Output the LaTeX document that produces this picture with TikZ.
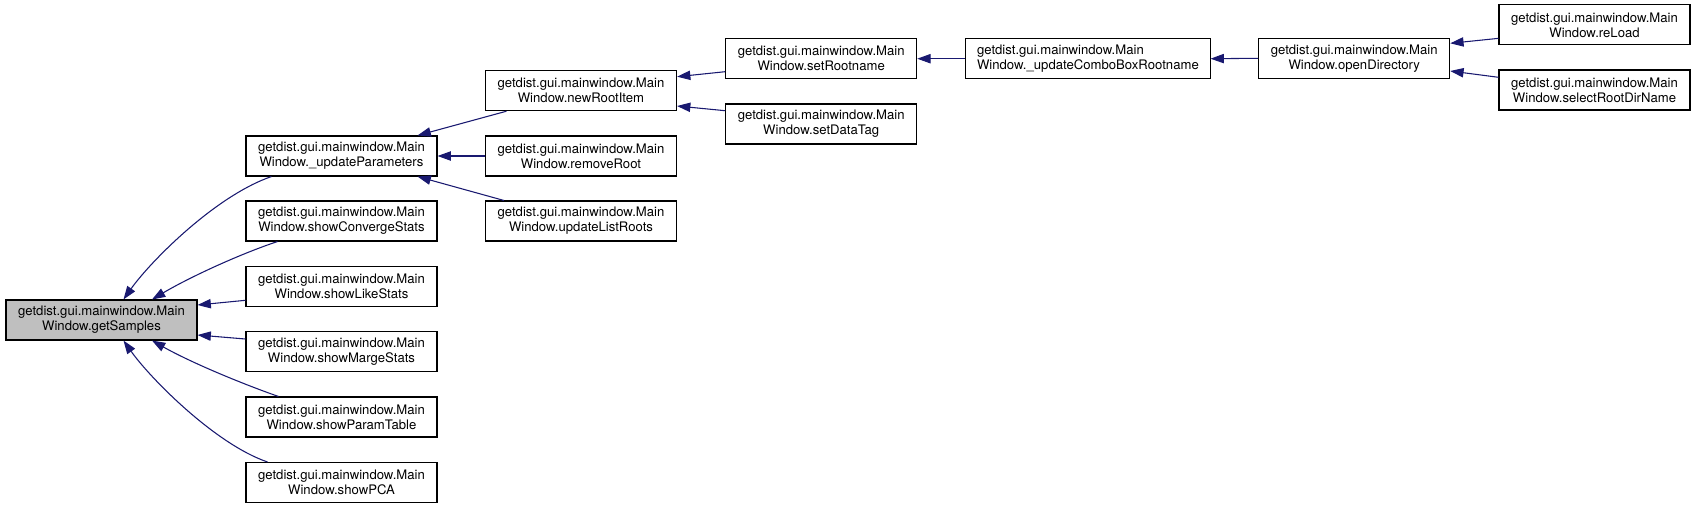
\documentclass[tikz,border=0pt]{standalone}
\usepackage{fontspec}
\setmainfont{TeX Gyre Heros}
\usetikzlibrary{arrows.meta,calc}
\definecolor{edgeblue}{HTML}{191970}
\definecolor{selgray}{HTML}{BFBFBF}
\tikzset{
  fn/.style={draw=black, line width=0.8pt, fill=white, inner sep=0pt,
    minimum width=143.25pt, minimum height=30pt, align=center,
    font=\fontsize{9.85pt}{11.25pt}\selectfont},
  fnwide/.style={fn, minimum width=183.2pt, align=left},
  cur/.style={fn, fill=selgray},
  edge/.style={draw=edgeblue, line width=0.8pt, {Triangle[length=10pt,width=7pt]}-}
}
\begin{document}
\begin{tikzpicture}[x=0.75pt,y=-0.75pt]
\useasboundingbox (0,0) rectangle (1696,508);
% column 0
\node[cur] (gs) at (101.5,320) {getdist.gui.mainwindow.Main\\Window.getSamples};
% column 1
\node[fn] (updP) at (341.5,156) {getdist.gui.mainwindow.Main\\Window.\_updateParameters};
\node[fn] (conv) at (341.5,221) {getdist.gui.mainwindow.Main\\Window.showConvergeStats};
\node[fn] (like) at (341.5,286.3) {getdist.gui.mainwindow.Main\\Window.showLikeStats};
\node[fn] (marge) at (341.5,351.7) {getdist.gui.mainwindow.Main\\Window.showMargeStats};
\node[fn] (ptab) at (341.5,417) {getdist.gui.mainwindow.Main\\Window.showParamTable};
\node[fn] (pca) at (341.5,482.5) {getdist.gui.mainwindow.Main\\Window.showPCA};
% column 2
\node[fn] (newR) at (581,90.7) {getdist.gui.mainwindow.Main\\Window.newRootItem};
\node[fn] (remR) at (581,156) {getdist.gui.mainwindow.Main\\Window.removeRoot};
\node[fn] (updL) at (581,221) {getdist.gui.mainwindow.Main\\Window.updateListRoots};
% column 3
\node[fn] (setR) at (821.2,58.7) {getdist.gui.mainwindow.Main\\Window.setRootname};
\node[fn] (setD) at (821.2,124) {getdist.gui.mainwindow.Main\\Window.setDataTag};
% column 4
\node[fnwide] (combo) at (1087.9,58.7) {getdist.gui.mainwindow.Main\\Window.\_updateComboBoxRootname};
% column 5
\node[fn] (openD) at (1354.2,58.3) {getdist.gui.mainwindow.Main\\Window.openDirectory};
% column 6
\node[fn] (reLoad) at (1594.5,24.85) {getdist.gui.mainwindow.Main\\Window.reLoad};
\node[fn] (selR) at (1594.5,90) {getdist.gui.mainwindow.Main\\Window.selectRootDirName};

% edges
\draw[edge] ($(gs.north)+(22,0)$) .. controls (150,262) and (215,196) .. ($(updP.south west)+(26,0)$);
\draw[edge] ($(gs.north)+(50.5,0)$) .. controls (190,277) and (240,254) .. ($(conv.south west)+(32,0)$);
\draw[edge] ($(gs.east)+(0,-15)$) -- ($(like.west)+(0,14)$);
\draw[edge] ($(gs.east)+(0,15)$) -- ($(marge.west)+(0,-12.7)$);
\draw[edge] ($(gs.south)+(50.5,0)$) .. controls (190,362) and (240,383) .. ($(ptab.north west)+(33,0)$);
\draw[edge] ($(gs.south)+(22,0)$) .. controls (150,378) and (215,444) .. ($(pca.north west)+(22,0)$);

\draw[edge] ($(updP.north east)+(-20,0)$) -- ($(newR.south west)+(21.4,0)$);
\draw[edge] (updP.east) -- (remR.west);
\draw[edge] ($(updP.south east)+(-20,0)$) -- ($(updL.north west)+(19,0)$);

\draw[edge] ($(newR.east)+(0,-14)$) -- ($(setR.west)+(0,13)$);
\draw[edge] ($(newR.east)+(0,15.3)$) -- ($(setD.west)+(0,-13.3)$);

\draw[edge] (setR.east) -- (combo.west);
\draw[edge] (combo.east) -- (openD.west);

\draw[edge] ($(openD.east)+(0,-15)$) -- ($(reLoad.west)+(0,13.5)$);
\draw[edge] ($(openD.east)+(0,12.7)$) -- ($(selR.west)+(0,-12.7)$);
\end{tikzpicture}
\end{document}
